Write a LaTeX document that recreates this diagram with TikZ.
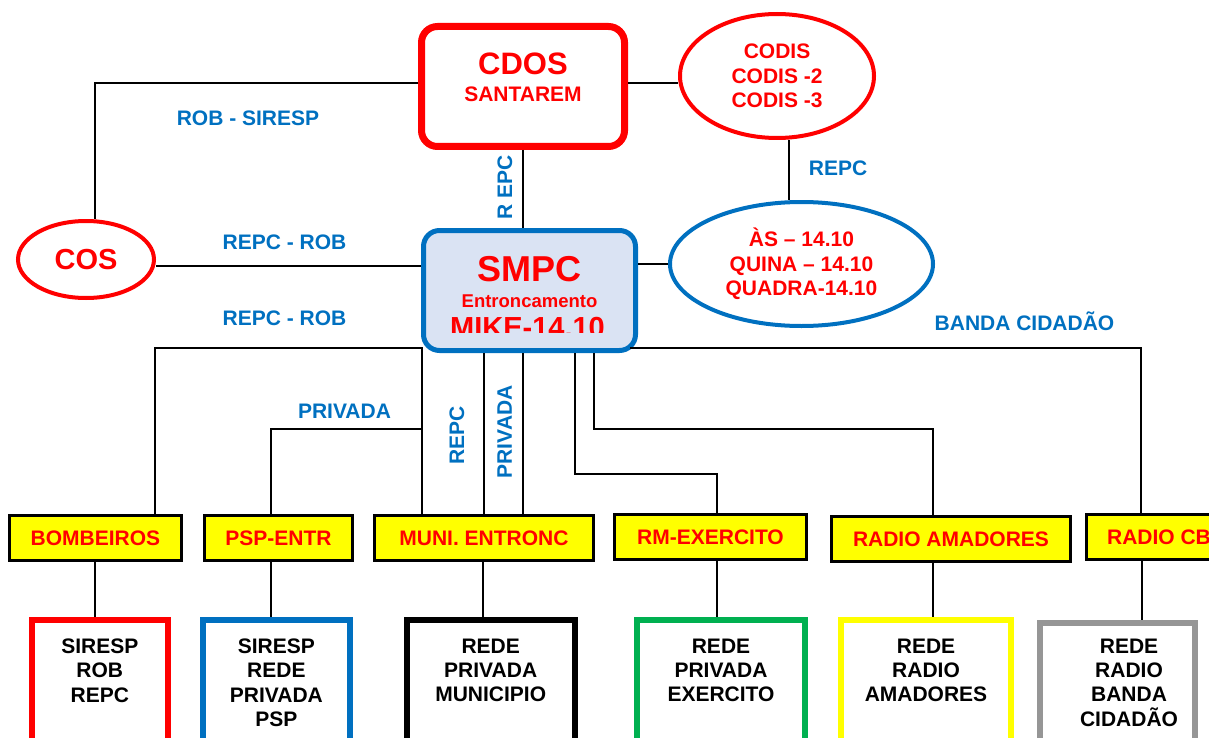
\documentclass[tikz,border=0pt]{standalone}
\usepackage{fontspec}
\setmainfont{Liberation Sans}
\usetikzlibrary{shapes.geometric}
\definecolor{cpred}{RGB}{255,0,0}
\definecolor{cpblue}{RGB}{0,112,192}
\definecolor{cpyellow}{RGB}{255,255,0}
\definecolor{cpgreen}{RGB}{0,176,80}
\definecolor{cpgray}{RGB}{150,150,150}
\definecolor{smpcfill}{RGB}{218,227,243}
\begin{document}
\begin{tikzpicture}[x=1pt,y=-1pt,
        link/.style={line width=2.6pt, black},
        lbl/.style={text=cpblue, font=\bfseries\fontsize{21}{24}\selectfont, inner sep=0pt, text height=15pt, text depth=0pt},
        redtxt/.style={text=cpred, font=\bfseries\fontsize{21}{24}\selectfont, inner sep=0pt, text height=15pt, text depth=0pt},
        oval/.style={ellipse, line width=4pt, inner sep=0pt, align=center, text=cpred, font=\bfseries\fontsize{21}{24.5}\selectfont},
        unitbox/.style={draw=black, line width=3pt, fill=cpyellow, text=cpred, font=\bfseries\fontsize{21}{24}\selectfont, minimum height=45pt, inner sep=0pt, text height=15pt, text depth=0pt},
        netbox/.style={line width=6pt, minimum height=200pt, anchor=north, fill=white},
        nettxt/.style={anchor=north, align=center, inner sep=0pt, font=\bfseries\fontsize{21}{24.4}\selectfont}]
        \path[use as bounding box, clip] (0,0) rectangle (1209,738);

        \node[draw=cpred, line width=7pt, rounded corners=16pt, minimum width=203pt, minimum height=120pt] (cdos) at (523,86.5) {};
        \node[redtxt, font=\bfseries\fontsize{31}{31}\selectfont, text height=22.2pt] (cdosname) at (523,63.5) {CDOS};
        \node[redtxt] (cdoscity) at (523,94) {SANTAREM};
        \node[oval, draw=cpred, minimum width=194pt, minimum height=124pt] (codis) at (777,76) {CODIS\\CODIS -2\\CODIS -3};
        \node[oval, draw=cpred, minimum width=136pt, minimum height=77pt, font=\bfseries\fontsize{29}{29}\selectfont] (cos) at (86,259.5) {COS};
        \node[draw=cpblue, line width=5pt, fill=smpcfill, rounded corners=16pt, minimum width=212pt, minimum height=120pt] (smpc) at (529.5,290.5) {};
        \node[redtxt, font=\bfseries\fontsize{36}{36}\selectfont, text height=25.8pt] (smpcname) at (529,268.3) {SMPC};
        \node[redtxt, font=\bfseries\fontsize{18.5}{18.5}\selectfont, text height=13.2pt] (smpcloc) at (529.5,301) {Entroncamento};
        \begin{scope}
            \clip (424,310) rectangle (635,332.5);
            \node[redtxt, font=\bfseries\fontsize{29}{29}\selectfont, text height=20.8pt, anchor=base] (smpccode) at (527.5,337.4) {MIKE-14.10};
        \end{scope}
        \node[oval, draw=cpblue, minimum width=263pt, minimum height=124pt] (as) at (801.5,264) {ÀS – 14.10\\QUINA – 14.10\\QUADRA-14.10};

        \node[unitbox, minimum width=172pt] (bomb) at (95.5,538) {BOMBEIROS};
        \node[unitbox, minimum width=148pt] (psp) at (278.5,538) {PSP-ENTR};
        \node[unitbox, minimum width=219pt] (muni) at (484,538) {MUNI. ENTRONC};
        \node[unitbox, minimum width=192pt] (rm) at (710.5,537) {RM-EXERCITO};
        \node[unitbox, minimum width=239pt] (ama) at (951,538.5) {RADIO AMADORES};
        \node[unitbox, minimum width=145pt] (cb) at (1159,536.5) {RADIO CB};

        \node[netbox, draw=cpred, minimum width=136.5pt] (sirnet) at (99.75,617) {};
        \node[netbox, draw=cpblue, minimum width=147pt] (pspnet) at (276.5,617) {};
        \node[netbox, draw=black, minimum width=168pt] (muninet) at (491,617) {};
        \node[netbox, draw=cpgreen, minimum width=168pt] (exenet) at (721,617) {};
        \node[netbox, draw=cpyellow, minimum width=170pt] (amanet) at (926,617) {};
        \node[netbox, draw=cpgray, minimum width=155pt] (cbnet) at (1117.5,620) {};
        \node[nettxt] (sirtxt) at (99.8,638.5) {SIRESP\\ROB\\REPC};
        \node[nettxt] (psptxt) at (276.4,638.5) {SIRESP\\REDE\\PRIVADA\\PSP};
        \node[nettxt] (munitxt) at (490.7,638.5) {REDE\\PRIVADA\\MUNICIPIO};
        \node[nettxt] (exetxt) at (721,638.5) {REDE\\PRIVADA\\EXERCITO};
        \node[nettxt] (amatxt) at (926,638.5) {REDE\\RADIO\\AMADORES};
        \node[nettxt] (cbtxt) at (1129,638.5) {REDE\\RADIO\\BANDA\\CIDADÃO};

        \node[lbl] (robsiresp) at (248,118) {ROB - SIRESP};
        \node[lbl] (repcrob1) at (284.5,242) {REPC - ROB};
        \node[lbl] (repcrob2) at (284.5,317.5) {REPC - ROB};
        \node[lbl] (repccodis) at (838,168) {REPC};
        \node[lbl, rotate=90] (repccdos) at (504.5,187.5) {R EPC};
        \node[lbl] (privpsp) at (344.5,411) {PRIVADA};
        \node[lbl, rotate=90] (repcmuni) at (456.7,435) {REPC};
        \node[lbl, rotate=90] (privmuni) at (504.3,431.7) {PRIVADA};
        \node[lbl] (banda) at (1024.5,323) {BANDA CIDADÃO};

        \coordinate (smpcbl) at (422,348);
        \coordinate (rmbend) at (575,474);
        \coordinate (amabend) at (594,429);

        \draw[link] ([yshift=3.5pt]cdos.west) -| ([xshift=9pt]cos.north);
        \draw[link] ([yshift=3.5pt]cdos.east) -- ([yshift=3.5pt]cdos.east -| codis.west);
        \draw[link] (cdos.south) -- (cdos.south |- smpc.north);
        \draw[link] ([xshift=12pt]codis.south) -- ([xshift=12pt]codis.south |- as.north);
        \draw[link] ([yshift=-6.5pt]cos.east) -- ([yshift=-6.5pt]cos.east -| smpc.west);
        \draw[link] (as.west) -- (as.west -| smpc.east);
        \draw[link] ([xshift=59.5pt]bomb.north) |- (smpcbl) -- ([xshift=-62pt]muni.north);
        \draw[link] ([xshift=-7.5pt]psp.north) |- (smpcbl |- amabend);
        \draw[link] (muni.north) -- (muni.north |- smpc.south);
        \draw[link] ([xshift=39pt]muni.north) -- ([xshift=39pt]muni.north |- smpc.south);
        \draw[link] ([xshift=6.5pt]rm.north) |- (rmbend) -- (rmbend |- smpc.south);
        \draw[link] ([xshift=-18pt]ama.north) |- (amabend) -- (amabend |- smpc.south);
        \draw[link] ([xshift=-18pt]cb.north) |- ([xshift=-8pt]smpc.east |- smpcbl);

        \draw[link] ([xshift=-0.5pt]bomb.south) -- ([xshift=-0.5pt]bomb.south |- sirnet.north);
        \draw[link] ([xshift=-7.5pt]psp.south) -- ([xshift=-7.5pt]psp.south |- pspnet.north);
        \draw[link] ([xshift=-1pt]muni.south) -- ([xshift=-1pt]muni.south |- muninet.north);
        \draw[link] ([xshift=6.5pt]rm.south) -- ([xshift=6.5pt]rm.south |- exenet.north);
        \draw[link] ([xshift=-18pt]ama.south) -- ([xshift=-18pt]ama.south |- amanet.north);
        \draw[link] ([xshift=-17pt]cb.south) -- ([xshift=-17pt]cb.south |- cbnet.north);
    \end{tikzpicture}
\end{document}
